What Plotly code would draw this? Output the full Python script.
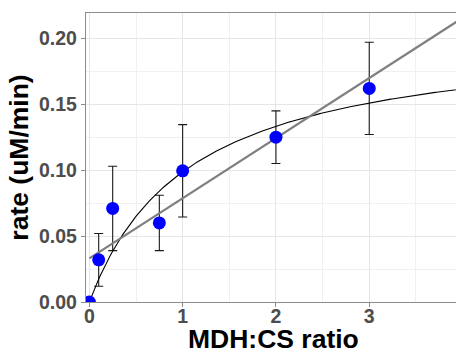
import numpy as np
import plotly.graph_objects as go

# ---- data ----
ratio = [0, 0.1, 0.25, 0.75, 1, 2, 3]
rate = [0.0, 0.032, 0.071, 0.060, 0.0995, 0.125, 0.162]
rate_err_plus = [0.0, 0.020, 0.032, 0.021, 0.035, 0.020, 0.035]
rate_err_minus = [0.0, 0.020, 0.032, 0.021, 0.035, 0.020, 0.035]

# fitted curves (parameters)
mm_vmax = 0.2053
mm_km = 1.08
lin_intercept = 0.0331
lin_slope = 0.0456

x_tick_vals = [0, 1, 2, 3]
y_tick_vals = [0.00, 0.05, 0.10, 0.15, 0.20]
y_tick_text = ["0.00", "0.05", "0.10", "0.15", "0.20"]

x_title = "MDH:CS ratio"
y_title = "rate (uM/min)"

x_range = [-0.036, 3.93]
y_range = [0, 0.2192]

# ---- model lines ----
xs_fit = np.linspace(0, 4.2, 300)
mm_fit = mm_vmax * xs_fit / (mm_km + xs_fit)
lin_x = [0, 4.2]
lin_y = [lin_intercept + lin_slope * v for v in lin_x]

fig = go.Figure()

fig.add_trace(go.Scatter(
    x=ratio, y=rate, mode="markers",
    marker=dict(size=0.1, color="rgba(0,0,0,0)"),
    error_y=dict(type="data", symmetric=False, array=rate_err_plus,
                 arrayminus=rate_err_minus, color="#1a1a1a",
                 thickness=1.1, width=4.5),
    showlegend=False, hoverinfo="skip"))

fig.add_trace(go.Scatter(
    x=xs_fit, y=mm_fit, mode="lines",
    line=dict(color="black", width=1.1), showlegend=False))

fig.add_trace(go.Scatter(
    x=lin_x, y=lin_y, mode="lines",
    line=dict(color="#7f7f7f", width=2.2), showlegend=False))

fig.add_trace(go.Scatter(
    x=ratio, y=rate, mode="markers",
    marker=dict(size=13, color="#0000ff", line=dict(width=0)),
    showlegend=False))

font_family = "Liberation Sans, Arial, Helvetica, sans-serif"
title_font = dict(size=26.5, color="black", family=font_family, weight="bold")

fig.update_layout(
    width=456, height=350,
    margin=dict(l=86, r=0, t=13, b=48),
    paper_bgcolor="white", plot_bgcolor="white",
    font=dict(family=font_family),
    xaxis=dict(
        range=x_range, tickvals=x_tick_vals,
        ticks="outside", ticklen=4, tickcolor="#8c8c8c", tickwidth=1,
        ticklabelstandoff=-8,
        tickfont=dict(size=19.5, color="#4d4d4d", family=font_family, weight="bold"),
        showgrid=True, gridcolor="#e6e6e6", gridwidth=1,
        minor=dict(dtick=0.5, tick0=0, showgrid=True, gridcolor="#f0f0f0", gridwidth=1),
        zeroline=False,
        showline=True, linecolor="#8c8c8c", linewidth=1.3, mirror=True,
        automargin=False,
    ),
    yaxis=dict(
        range=y_range, tickvals=y_tick_vals, ticktext=y_tick_text,
        ticks="outside", ticklen=4, tickcolor="#8c8c8c", tickwidth=1,
        tickfont=dict(size=19.5, color="#4d4d4d", family=font_family, weight="bold"),
        showgrid=True, gridcolor="#e6e6e6", gridwidth=1,
        minor=dict(dtick=0.025, tick0=0, showgrid=True, gridcolor="#f0f0f0", gridwidth=1),
        zeroline=False,
        showline=True, linecolor="#8c8c8c", linewidth=1.3, mirror=True,
        title=dict(text=y_title, standoff=2, font=title_font),
        automargin=False,
    ),
    annotations=[dict(
        text=x_title, xref="paper", yref="paper", x=0.508, y=-0.1273,
        xanchor="center", yanchor="middle", showarrow=False, font=title_font)],
)

fig.write_html("out.html",
               config={"displayModeBar": False},
               post_script="document.body.style.margin='0';document.body.style.overflow='hidden';")
